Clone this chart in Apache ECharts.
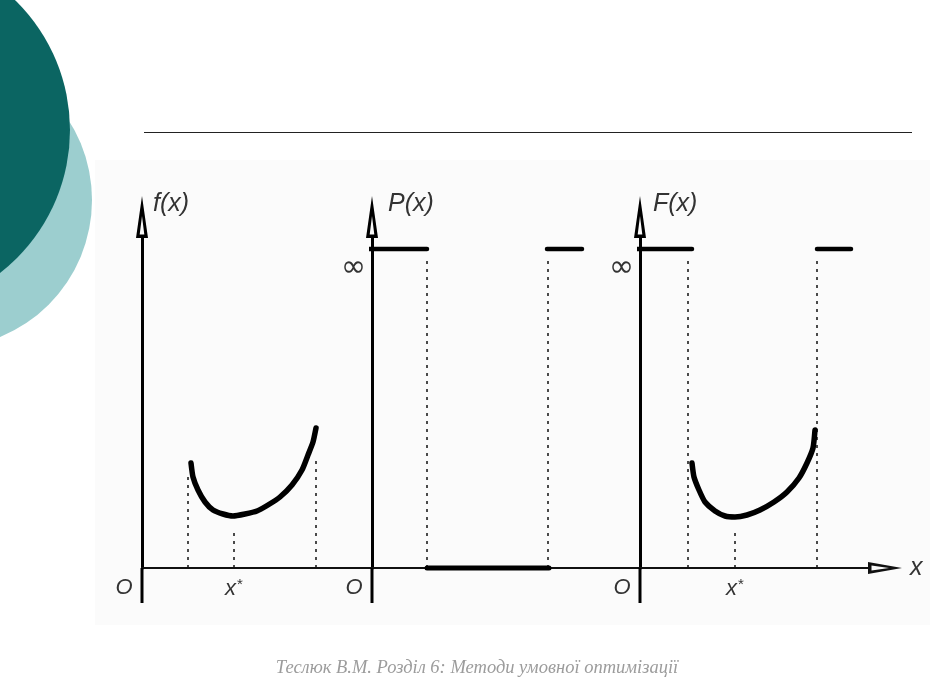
<!DOCTYPE html>
<html><head><meta charset="utf-8">
<script src="https://cdn.jsdelivr.net/npm/echarts@6/dist/echarts.min.js"></script>
<style>html,body{margin:0;padding:0;background:#fff}#c{width:934px;height:692px}</style>
</head><body><div id="c"></div>
<script>
// ---- texts ----
const panelNames = ['f(x)', 'P(x)', 'F(x)'];
const originLabel = 'O';
const infLabel = '∞';
const axisName = 'x';
const footerText = 'Теслюк В.М. Розділ 6: Методи умовної оптимізації';

// ---- data (schematic units) ----
const INF = 31.9;
const Y_BELOW = -3.5;       // y-axis runs a little below the origin
const X_LEFT = -3.8;        // x-axis starts left of the first origin
// panel 1: f(x)
const fX = [4.9, 5.1, 5.6, 6.3, 7.1, 8.1, 9.1, 10.3, 11.5, 12.6, 13.8, 15.0, 16.0, 16.6, 17.1, 17.4];
const fY = [10.5, 9.1, 7.8, 6.6, 5.8, 5.4, 5.2, 5.4, 5.7, 6.3, 7.1, 8.3, 9.8, 11.3, 12.6, 14.0];
const fDashX = [4.6, 9.2, 17.4];
const fDashTop = [9.6, 3.8, 10.8];
const fStarX = 9.2;
// panel 2: P(x)
const pInfLeftX = [-1.7, 5.5];
const pInfRightX = [17.5, 21.0];
const pZeroX = [5.5, 17.7];
const pDashX = [5.5, 17.6];
const pDashTop = [30.8, 30.8];
// panel 3: F(x)
const FX = [5.2, 5.4, 5.9, 6.5, 7.5, 8.5, 9.5, 10.7, 12.0, 13.4, 14.7, 15.9, 16.7, 17.3, 17.5];
const FY = [10.5, 9.1, 7.8, 6.6, 5.7, 5.2, 5.1, 5.3, 5.8, 6.6, 7.6, 9.0, 10.5, 12.0, 13.8];
const FInfLeftX = [-2.1, 5.2];
const FInfRightX = [17.7, 21.1];
const FDashX = [4.8, 9.5, 17.7];
const FDashTop = [31.0, 3.8, 31.0];
const FStarX = 9.5;

// ---- styling ----
const LABEL_FONT = 'Liberation Sans';
const upArrow = 'path://M6,0L12,42L0,42Z M6,20L3.7,38.5L8.3,38.5Z';
const xArrow = 'path://M6,0L12,34L0,34Z M6,13L3.4,30.5L8.6,30.5Z';
const grids = [
  {left: 142, top: 238, width: 230, bottom: 124, xmax: 23.0, namePad: 11},
  {left: 372, top: 238, width: 268, bottom: 124, xmax: 26.8, namePad: 16},
  {left: 640, top: 238, width: 228, bottom: 124, xmax: 22.8, namePad: 13}
];
const YMAX = 33.0;

function xLabelFormatter(v) {
  if (v === 0) return '{o|' + originLabel + '}';
  return '{x|x}{s|*}';
}
const xRich = {
  o: {fontSize: 22, fontStyle: 'italic', fontFamily: LABEL_FONT, color: '#333', padding: [0, 36, 0, 0]},
  x: {fontSize: 22, fontStyle: 'italic', fontFamily: LABEL_FONT, color: '#333'},
  s: {fontSize: 15, fontFamily: LABEL_FONT, color: '#333', verticalAlign: 'top', padding: [0, 0, 8, 1]}
};

const xAxes = grids.map((g, i) => ({
  type: 'value', gridIndex: i, min: 0, max: g.xmax,
  splitLine: {show: false}, axisTick: {show: false},
  axisLine: Object.assign({show: true, onZero: false, lineStyle: {color: '#111', width: 2}},
    i === 2 ? {symbol: ['none', xArrow], symbolSize: [13, 34], symbolOffset: [0, 17]} : {}),
  axisLabel: {
    show: true,
    customValues: i === 0 ? [0, fStarX] : (i === 1 ? [0] : [0, FStarX]),
    formatter: xLabelFormatter, rich: xRich, margin: 9
  },
  name: i === 2 ? axisName : '',
  nameLocation: 'end', nameGap: 42,
  nameTextStyle: {fontSize: 25, fontStyle: 'italic', fontFamily: LABEL_FONT, color: '#333', verticalAlign: 'middle'}
}));

const yAxes = grids.map((g, i) => ({
  type: 'value', gridIndex: i, min: 0, max: YMAX,
  splitLine: {show: false}, axisTick: {show: false},
  axisLine: {show: true, onZero: false, lineStyle: {color: '#000', width: 3},
    symbol: ['none', upArrow], symbolSize: [12, 42], symbolOffset: [0, 21]},
  axisLabel: {
    show: i > 0, customValues: [INF], formatter: () => infLabel,
    fontSize: 30, fontFamily: 'DejaVu Sans', color: '#333',
    verticalAlign: 'top', margin: 6, padding: [4, 0, 0, 0]
  },
  name: panelNames[i], nameLocation: 'end', nameGap: 34,
  nameTextStyle: {fontSize: 25, fontStyle: 'italic', fontFamily: LABEL_FONT, color: '#333',
    align: 'left', verticalAlign: 'middle', padding: [0, 0, 0, g.namePad]}
}));

function base(idx, z) {
  return {type: 'line', xAxisIndex: idx, yAxisIndex: idx, silent: true, z: z, clip: false, showSymbol: false};
}
function curve(idx, xs, ys) {
  return Object.assign(base(idx, 5), {data: xs.map((x, k) => [x, ys[k]]), smooth: 0.2,
    lineStyle: {color: '#000', width: 5.5, cap: 'round', join: 'round'}});
}
function hseg(idx, xs, y, w) {
  return Object.assign(base(idx, 4), {data: [[xs[0], y], [xs[1], y]],
    lineStyle: {color: '#000', width: w, cap: 'round'}});
}
function vseg(idx, x, ys, w) {
  return Object.assign(base(idx, 4), {data: [[x, ys[0]], [x, ys[1]]],
    lineStyle: {color: '#000', width: w}});
}
function dashes(idx, xs, tops) {
  return xs.map((x, k) => Object.assign(base(idx, 3), {data: [[x, 0], [x, tops[k]]],
    lineStyle: {color: '#111', width: 1.5, type: [3, 5]}}));
}

const series = [
  // axis extensions below / left of the origins
  vseg(0, 0, [0, Y_BELOW], 3), vseg(1, 0, [0, Y_BELOW], 3), vseg(2, 0, [0, Y_BELOW], 3),
  Object.assign(base(0, 2), {data: [[X_LEFT, 0], [0, 0]], lineStyle: {color: '#111', width: 2}}),
  curve(0, fX, fY),
  ...dashes(0, fDashX, fDashTop),
  hseg(1, pInfLeftX, INF, 4.5),
  hseg(1, pInfRightX, INF, 4.5),
  hseg(1, pZeroX, 0, 5),
  ...dashes(1, pDashX, pDashTop),
  curve(2, FX, FY),
  hseg(2, FInfLeftX, INF, 4.5),
  hseg(2, FInfRightX, INF, 4.5),
  ...dashes(2, FDashX, FDashTop)
];

const chart = echarts.init(document.getElementById('c'), null, {renderer: 'canvas'});
chart.setOption({
  animation: false,
  backgroundColor: '#ffffff',
  grid: grids.map(g => ({left: g.left, top: g.top, width: g.width, bottom: g.bottom,
    containLabel: false, outerBoundsMode: 'none'})),
  xAxis: xAxes,
  yAxis: yAxes,
  series: series,
  graphic: [
    {type: 'rect', z: -10, shape: {x: 95, y: 160, width: 835, height: 465}, style: {fill: '#fbfbfb'}, silent: true},
    {type: 'circle', z: 1, shape: {cx: -56, cy: 200, r: 148}, style: {fill: '#9ccecf'}, silent: true},
    {type: 'circle', z: 2, shape: {cx: -111, cy: 130, r: 181}, style: {fill: '#0b6562'}, silent: true},
    {type: 'line', shape: {x1: 144, y1: 132.5, x2: 912, y2: 132.5}, style: {stroke: '#222', lineWidth: 1}, silent: true},
    {type: 'text', x: 477, y: 668, silent: true,
      style: {text: footerText, fill: '#9c9c9c', font: 'italic 18.5px "Liberation Serif"',
        align: 'center', verticalAlign: 'middle'}}
  ]
});
</script>
</body></html>
